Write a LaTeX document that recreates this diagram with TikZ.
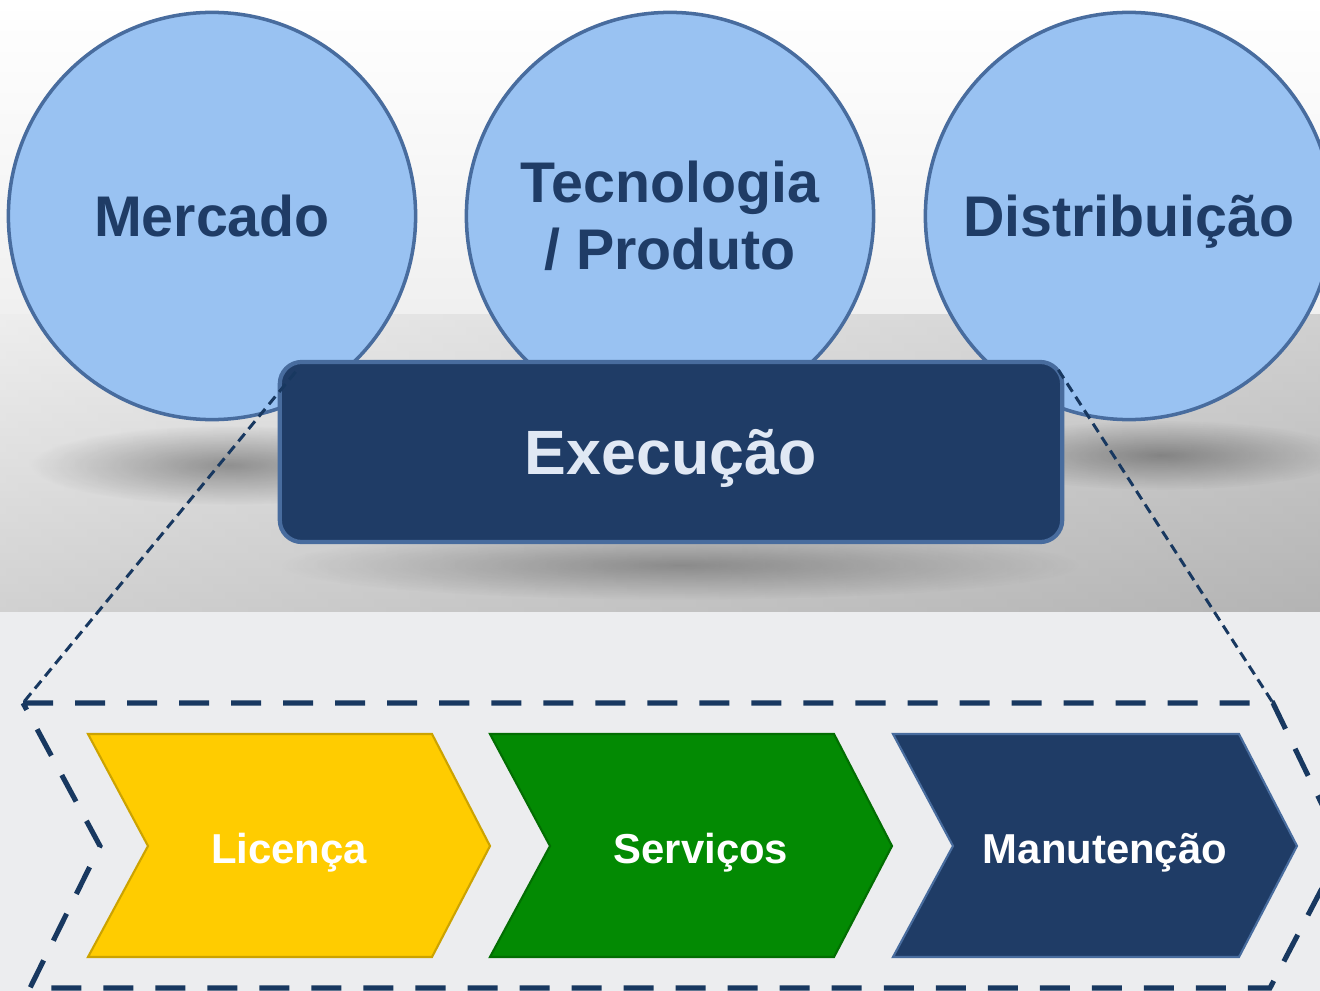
\documentclass[tikz,border=0pt]{standalone}
\usepackage{fontspec}
\setmainfont{Liberation Sans}
\usepackage{tikz}
\usetikzlibrary{shapes,calc,positioning,fadings}
\definecolor{lightblue}{RGB}{153,194,242}
\definecolor{darkblue}{RGB}{31,60,102}
\definecolor{edgeblue}{RGB}{72,108,158}
\definecolor{dashblue}{RGB}{24,56,96}
\definecolor{chevyellow}{RGB}{255,204,0}
\definecolor{chevgreen}{RGB}{3,138,3}
\definecolor{exectext}{RGB}{224,232,244}
\definecolor{floorgray}{RGB}{236,237,239}
\tikzfading[name=fuzzy, inner color=transparent!25, outer color=transparent!100]

\tikzset{
  bubble/.style={circle, fill=lightblue, draw=edgeblue, line width=1pt,
    minimum size=4.07cm, inner sep=0pt, text=darkblue, align=center,
    font=\fontsize{16.3}{19}\selectfont\bfseries},
  execbox/.style={rectangle, rounded corners=0.22cm, fill=darkblue, draw=edgeblue,
    line width=1.2pt, minimum width=7.82cm, minimum height=1.8cm,
    text height=12.7pt, text depth=0pt,
    text=exectext, font=\fontsize{17.8}{21}\selectfont\bfseries},
  chevtext/.style={text=white, text height=8.5pt, text depth=0pt,
    font=\fontsize{11.9}{14}\selectfont\bfseries},
  zoomline/.style={draw=dashblue, line width=0.85pt, dash pattern=on 0.1cm off 0.06cm},
  zoomframe/.style={draw=dashblue, line width=1.45pt, dash pattern=on 0.3cm off 0.22cm}
}

\begin{document}
\begin{tikzpicture}[x=0.01cm, y=-0.01cm]
      \useasboundingbox (0,0) rectangle (1320,991);
      \clip (0,0) rectangle (1320,991);
      % Background
      \shade[top color=white, bottom color=black!6] (0,0) rectangle (1320,315);
      \shade[top color=black!9, bottom color=black!24] (0,315) rectangle (1320,612);
      \shade[left color=white, right color=black!45, opacity=0.25] (0,315) rectangle (1320,612);
      \fill[floorgray] (0,612) rectangle (1320,991);
      % Shadows
      \fill[black, opacity=0.45, path fading=fuzzy] (230,465) ellipse (200 and 40);
      \fill[black, opacity=0.45, path fading=fuzzy] (1160,455) ellipse (190 and 35);
      \fill[black, opacity=0.4, path fading=fuzzy] (680,565) ellipse (400 and 35);
      % Circles
      \node[bubble, text height=11.7pt, text depth=0pt] (mercado) at (212,216) {Mercado};
      \node[bubble] (tecno) at (670,216) {Tecnologia\\/ Produto};
      \node[bubble, text height=11.7pt, text depth=0pt] (distr) at (1129,216) {Distribuição};
      % Execution box
      \node[execbox] (exec) at (671,452) {Execução};
      % Zoom lines
      \coordinate (zl) at (23,703);
      \coordinate (zr) at (1273,703);
      \draw[zoomline] ([shift={(18,12)}]exec.north west) -- (zl);
      \draw[zoomline] ([shift={(-6,10)}]exec.north east) -- (zr);
      \draw[zoomframe] (zl) -- (zr) -- (1343,848) -- (1270,988) -- (30,988) -- (100,846) -- cycle;
      % First chevron
      \draw[fill=chevyellow, draw=chevyellow!80!black, line width=0.6pt] (88,734) -- (432,734) -- (490,846) -- (432,957) -- (88,957) -- (148,846) -- cycle;
      \node[chevtext] (lic) at (289,849) {Licença};
      % Second chevron
      \draw[fill=chevgreen, draw=chevgreen!80!black, line width=0.6pt] (490,734) -- (834,734) -- (892,846) -- (834,957) -- (490,957) -- (550,846) -- cycle;
      \node[chevtext] (serv) at (701,849) {Serviços};
      % Third chevron
      \draw[fill=darkblue, draw=edgeblue, line width=0.6pt] (893,734) -- (1239,734) -- (1297,846) -- (1239,957) -- (893,957) -- (953,846) -- cycle;
      \node[chevtext] (manut) at (1105,849) {Manutenção};
    \end{tikzpicture}
\end{document}
